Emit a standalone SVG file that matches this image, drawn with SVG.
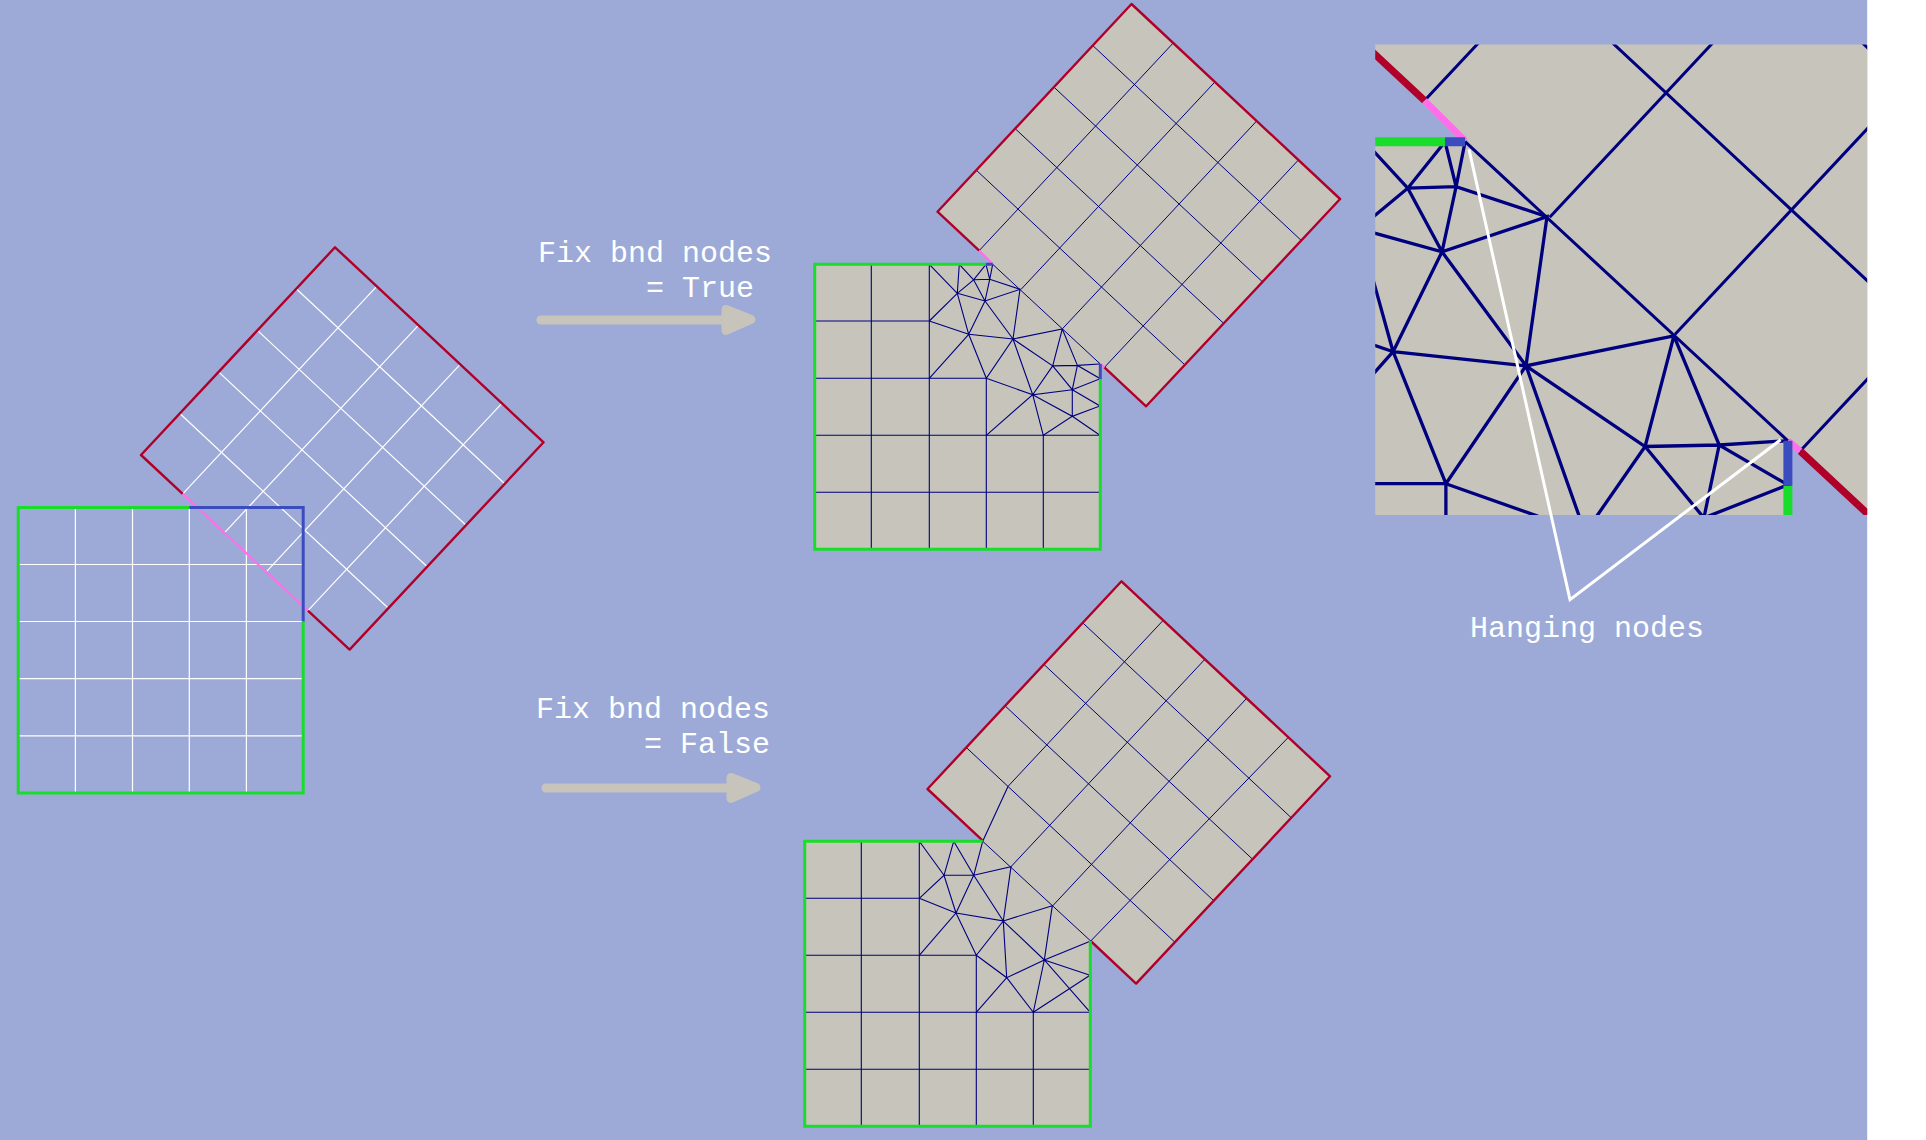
<svg xmlns="http://www.w3.org/2000/svg" xmlns:xlink="http://www.w3.org/1999/xlink" width="1926" height="1140" viewBox="0 0 1926 1140">
<style>
.fill{fill:#c6c4bb;stroke:none}
.navy{stroke:#00007f;stroke-width:1.1;fill:none}
.thin{stroke-width:1}
.white{stroke:#fff;stroke-width:1.2;fill:none}
.red{stroke:#b00029;stroke-width:2.4;fill:none;stroke-linejoin:round}
.pink{stroke:#ff70e8;stroke-width:2.2;fill:none}
.blue{stroke:#3a4cbe;stroke-width:3;fill:none}
.green{stroke:#18dd2a;stroke-width:3;fill:none;stroke-linejoin:miter}
.lbl{font-family:"Liberation Mono",monospace;font-size:30px;fill:#fff}
.shaft{stroke:#c6c4bb;stroke-width:9;stroke-linecap:round;fill:none}
.head{fill:#c6c4bb;stroke:#c6c4bb;stroke-width:9;stroke-linejoin:round}
.leader{stroke:#fff;stroke-width:3;fill:none}
</style>
<defs>
<path id="rotBase" d="M296.2 288.8L504.8 483.8M257.4 330.4L466 525.2M218.6 371.9L427.2 566.7M179.8 413.5L388.4 608.2M224.4 532.8L418.4 325.3M266.2 571.8L460.2 364.3"/>
<polygon id="rotFill" points="335,247.3 543.6,442.3 349.6,649.6 141,455"/>
<clipPath id="insetClip"><rect x="1375.2" y="44.5" width="492" height="470.5"/></clipPath>
<g id="upperMesh">
  <polygon class="fill" points="1131.5,4 1340.1,199 1146.1,406.3 937.5,211.7"/>
  <rect class="fill" x="814.7" y="264.3" width="285.6" height="285"/>
  <use xlink:href="#rotBase" href="#rotBase" class="navy thin" transform="translate(796.5 -243.3)"/>
  <path class="navy thin" d="M979.2 250.6L1173.2 43M1104.4 367.4L1298.4 160M992.7 264.3L1100.3 364"/>
  <path class="navy" d="M871.3 264.3V549.3M929.3 264.3V549.3M986.3 378.3V549.3M1043.3 435.3V549.3M814.7 321H929.3M814.7 378.3H986.3M814.7 435.3H1100.3M814.7 492.3H1100.3"/>
  <path class="navy" d="M929.3 321L957.3 293.3L973.6 279.8L986 264.3M929.3 264.3L957.3 293.3M959.3 264.3L957.3 293.3M959.3 264.3L973.6 279.8L985 301M973.6 279.8L989.7 279.3L1020 289.3M986 264.3L989.7 279.3M992.7 264.3L989.7 279.3L985 301M957.3 293.3L985 301L1020 289.3L1013 339M985 301L1013 339M985 301L968.7 334.3M957.3 293.3L968.7 334.3M929.3 321L968.7 334.3L1013 339M968.7 334.3L929.3 378.3M968.7 334.3L986.3 378.3L1013 339L1062.3 329L1052.7 365.9L1013 339M1013 339L1032.7 394.7M1062.3 329L1077.4 365.4M1052.7 365.9L1077.4 365.4L1099.6 364M1052.7 365.9L1072.3 389.7L1077.4 365.4L1100.3 378.7L1072.3 389.7L1032.7 394.7L1052.7 365.9M986.3 378.3L1032.7 394.7L986.3 435.3M1032.7 394.7L1043.3 435.3M1032.7 394.7L1072.3 416.3L1100 406L1072.3 389.7L1072.3 416.3L1043.3 435.3M1072.3 416.3L1100 435.3"/>
  <polyline class="red" points="979.2,250.6 937.5,211.7 1131.5,4 1340.1,199 1146.1,406.3 1104.4,367.4"/>
  <path class="pink" d="M979.2 250.6L992.7 264M1100.3 364L1104.4 367.4"/>
  <polyline class="green" points="986,264.3 814.7,264.3 814.7,549.3 1100.3,549.3 1100.3,379"/>
  <path class="blue" d="M986 264.3H992.7M1100.3 364V379"/>
</g>
</defs>
<rect id="background" x="0" y="0" width="1867.2" height="1140" fill="#9daad7"/>

<g id="input-mesh">
  <use xlink:href="#rotBase" href="#rotBase" class="white" stroke-width="1"/>
  <path class="white" d="M182.7 493.9L376.7 286.3M307.9 610.7L501.9 403.3"/>
  <path class="white" d="M75.4 507.4V793M132.5 507.4V793M189.3 507.4V793M246.4 507.4V793M18.2 564.5H303.2M18.2 621.5H303.2M18.2 678.7H303.2M18.2 735.8H303.2"/>
  <polyline class="red" points="182.7,493.9 141,455 335,247.3 543.6,442.3 349.6,649.6 307.9,610.7"/>
  <path class="pink" d="M182.7 493.9L307.9 610.7"/>
  <polyline class="green" points="189.3,507.4 18.2,507.4 18.2,793 303.2,793 303.2,621.5"/>
  <polyline class="blue" points="189.3,507.4 303.2,507.4 303.2,621.5"/>
</g>

<g id="mesh-true"><use xlink:href="#upperMesh" href="#upperMesh"/></g>

<g id="mesh-false">
  <use xlink:href="#rotFill" href="#rotFill" class="fill" transform="translate(786.5 334)"/>
  <rect class="fill" x="804.7" y="841.3" width="285.6" height="285"/>
  <use xlink:href="#rotBase" href="#rotBase" class="navy thin" transform="translate(786.5 334)"/>
  <path class="navy thin" d="M1008 786.4L1163.2 620.3M1090.7 941L1288.4 737.3M982.7 841.3L1090.7 941"/>
  <path class="navy" d="M861.3 841.3V1126.3M919.3 841.3V1126.3M976.3 955.3V1126.3M1033.3 1012.3V1126.3M804.7 898.3H919.3M804.7 955.3H976.3M804.7 1012.3H1090.3M804.7 1069.3H1090.3"/>
  <path class="navy" d="M919.3 841.3L944 875.3M953.7 841.3L944 875.3M953.7 841.3L973.7 875.3M982.7 841.3L973.7 875.3M982.7 841.3L1008 786.4M944 875.3L973.7 875.3L1011 866.7L1003.3 921M919.3 898.3L944 875.3L956 913M973.7 875.3L956 913M973.7 875.3L1003.3 921M919.3 898.3L956 913L1003.3 921L976.3 955.3L956 913L919.3 955.3M1003.3 921L1052.3 905.7L1044.3 960L1003.3 921L1006.7 977.7L1044.3 960L1090.7 941M1044.3 960L1090 975.3M976.3 955.3L1006.7 977.7L976.3 1012.3M1006.7 977.7L1033.3 1012.3L1044.3 960L1090.3 1012.3M1033.3 1012.3L1090 975.3"/>
  <polyline class="red" points="982.7,840.6 927.5,789 1121.5,581.3 1330.1,776.3 1136.1,983.6 1090.7,941"/>
  <polyline class="green" points="982.7,841.3 804.7,841.3 804.7,1126.3 1090.3,1126.3 1090.3,941"/>
</g>

<g id="inset" clip-path="url(#insetClip)">
  <use xlink:href="#upperMesh" href="#upperMesh" transform="translate(-1513 -651.2) scale(3)"/>
</g>

<g id="connectors">
  <g id="arrow-true">
    <path class="shaft" d="M541 320H730"/>
    <polygon class="head" points="726,309.5 751,319.5 726,330.5"/>
  </g>
  <g id="arrow-false">
    <path class="shaft" d="M546 788H735"/>
    <polygon class="head" points="731,777.5 756,787.5 731,798.5"/>
  </g>
  <polyline id="hanging-leader" class="leader" points="1469,149.3 1570,599.7 1780.6,439.8"/>
</g>

<g id="labels">
  <text class="lbl" x="538" y="262">Fix bnd nodes</text>
  <text class="lbl" x="646" y="297">= True</text>
  <text class="lbl" x="536" y="718">Fix bnd nodes</text>
  <text class="lbl" x="644" y="753">= False</text>
  <text class="lbl" x="1470" y="637">Hanging nodes</text>
</g>
</svg>
